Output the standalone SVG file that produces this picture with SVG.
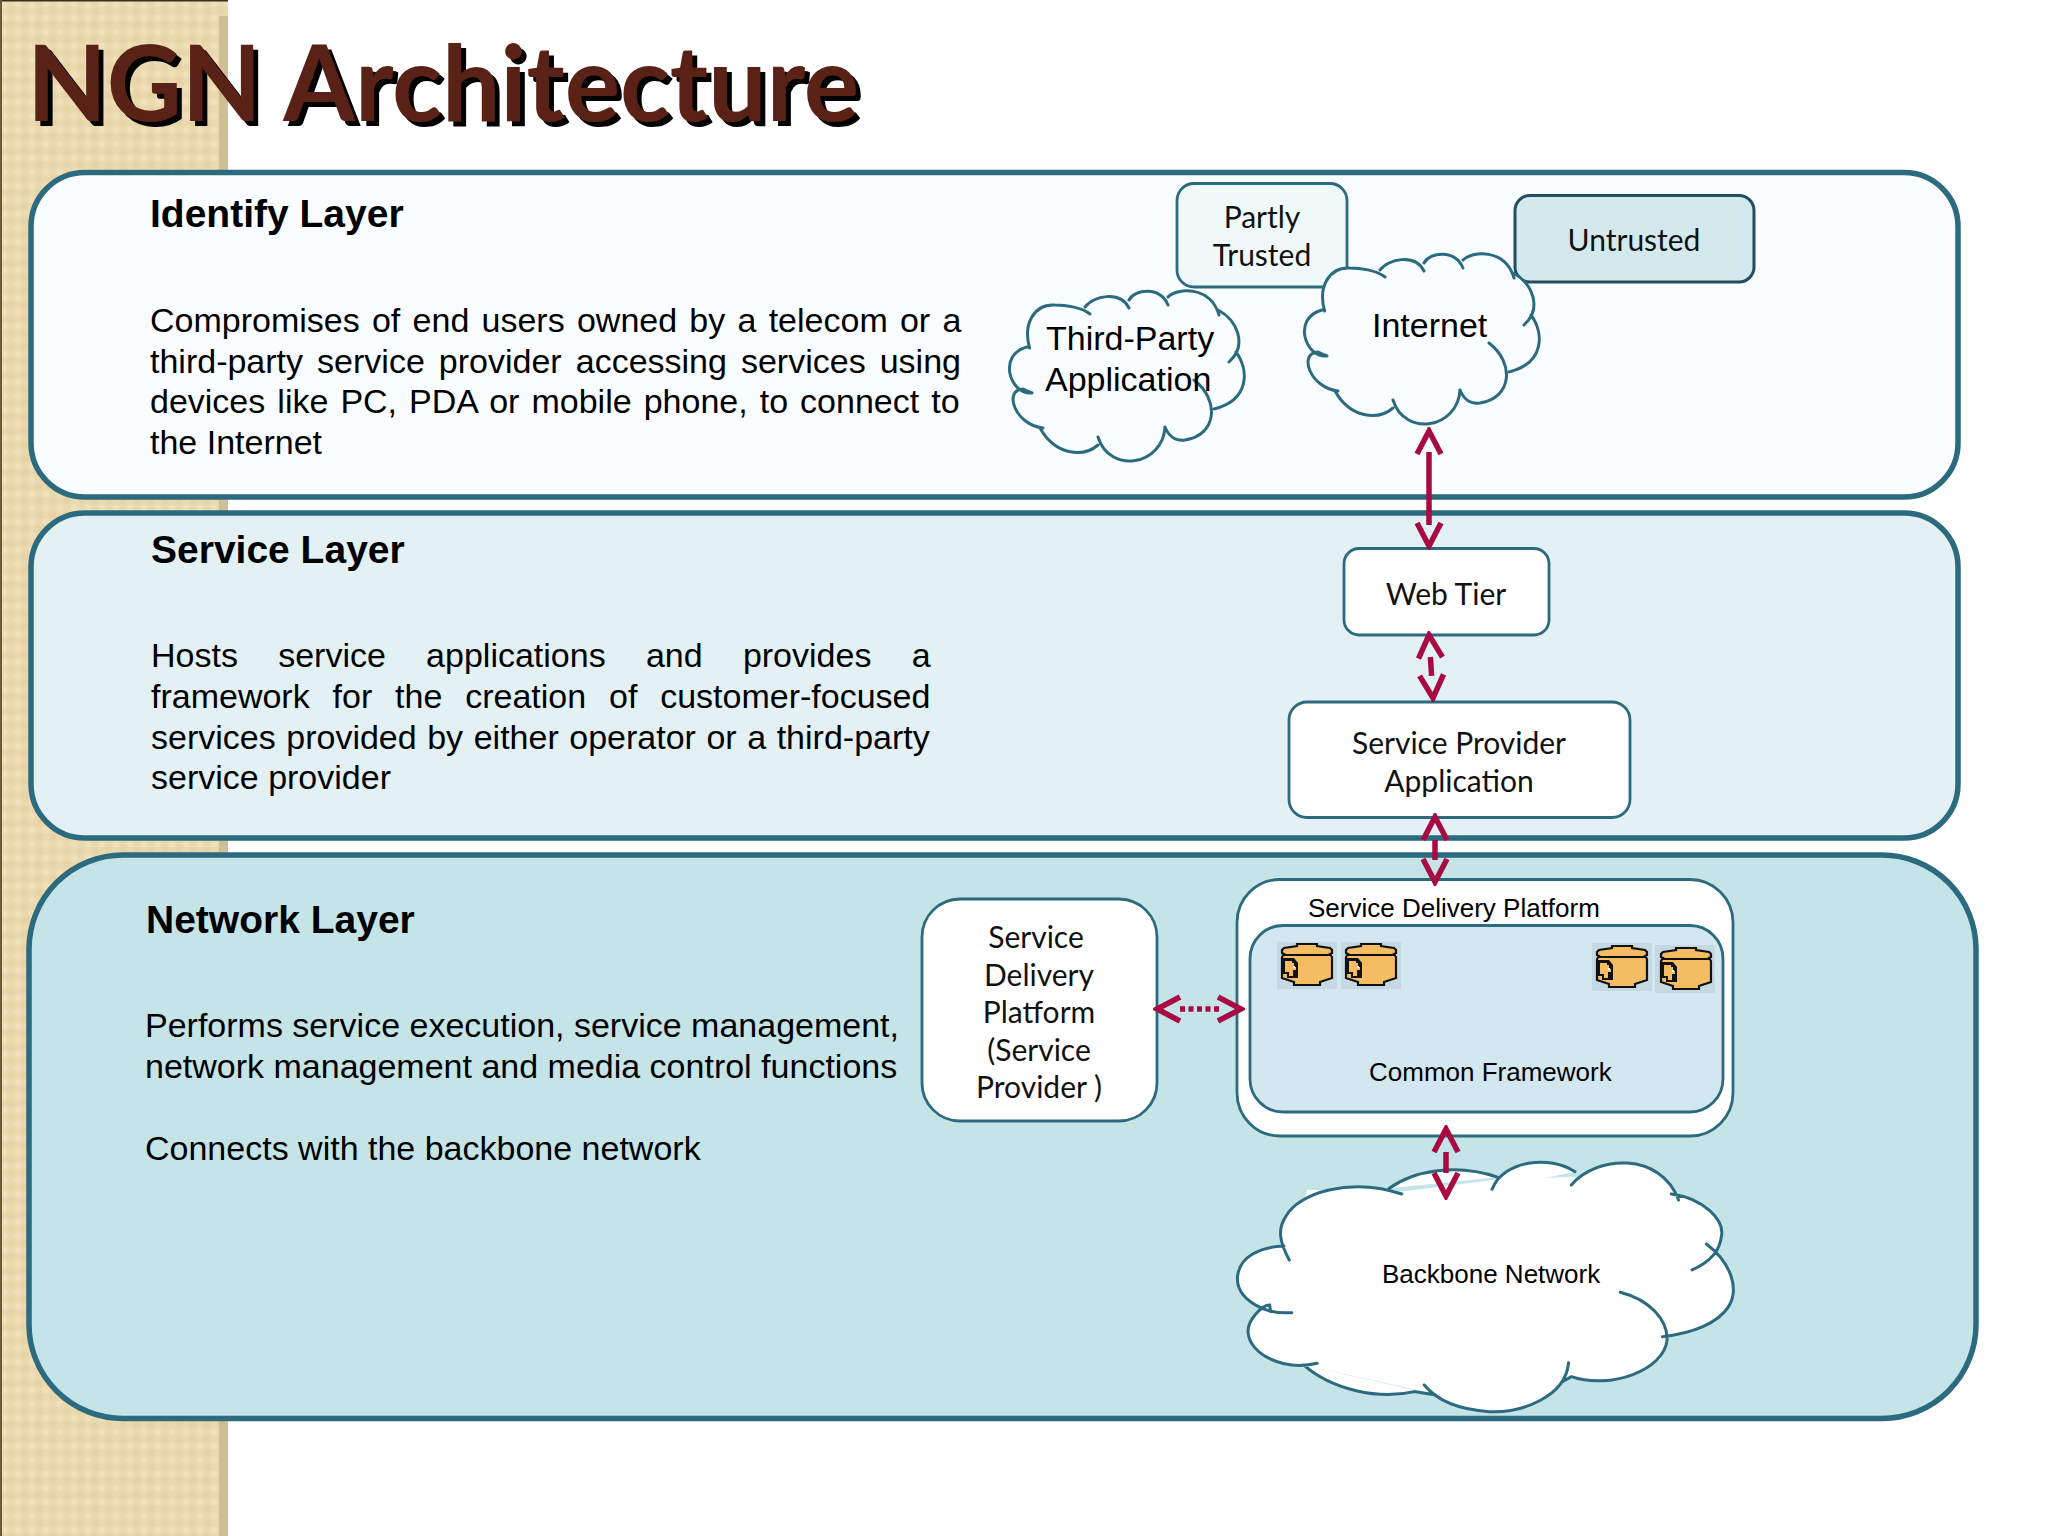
<svg xmlns="http://www.w3.org/2000/svg" width="2048" height="1536" viewBox="0 0 2048 1536">
<style>
text{font-family:"Liberation Sans",Arial,sans-serif;fill:#000}
.h{font-size:39px;font-weight:700}
.b{font-size:34px}
.g{font-family:"Lato","Open Sans",sans-serif;font-size:30px;text-anchor:middle;fill:#111}
.s{font-size:26px}
.layer{stroke:#2c6a7f;stroke-width:5.5}
.box{stroke:#2c6a7f;stroke-width:2.8}
.cl{stroke:#2c6a7f;stroke-width:3;stroke-linecap:round}
.ar{stroke:#a80a42;stroke-width:5.5;fill:none;marker-start:url(#v);marker-end:url(#v)}
</style>
<defs>
<pattern id="tex" width="14" height="14" patternUnits="userSpaceOnUse"><rect width="14" height="14" fill="#ead9ae"/><circle cx="4" cy="4" r="3.5" fill="#efe0b9"/><circle cx="11" cy="11" r="3.5" fill="#e6d4a6"/></pattern>
<marker id="v" viewBox="-30 -16 34 32" markerWidth="34" markerHeight="32" refX="0" refY="0" orient="auto-start-reverse" markerUnits="userSpaceOnUse"><path d="M-23,-12 L0,0 L-23,12" fill="none" stroke="#a80a42" stroke-width="5.5"/></marker>
<filter id="sh" x="-5%" y="-20%" width="110%" height="140%"><feDropShadow dx="5" dy="5" stdDeviation="0.3" flood-color="#000"/></filter>
<g id="cloud">
<path fill="#fafdff" d="M25,58 L50,20 L120,12 L165,10 L212,25 L225,72 L208,119 L160,137 L124,160 L93,147 L40,135 L27,103Z"/>
<path class="cl" fill="#fafdff" d="M24.6,58 C18,35 28,14 50,15 C60,15 76,17 85,24 M80,17 C88,6 115,0 124,18 M124,10 C130,-1 155,-4 163,15 M163,7 C172,-2 205,-5 214,25 M213,20 C232,30 243,55 224,72 M231,62 C244,80 245,110 209,119 M189,90 C215,110 212,145 180,150 C172,151 165,149 160,137 M160,137 C158,175 105,185 93,147 M93,155 C78,168 50,165 35,138 M38,138 C10,135 -2,100 18,99 C20,100 27,103 27,103 M27,103 C5,105 -8,65 22,57"/>
</g>
<g id="db">
<path fill="#f5bd63" stroke="#111" stroke-width="2.2" d="M15,0H35V2L48,4L50,6V9L48,10L50,13V34L38,38V41H12V38L0,34V13L2,10L0,9V6L2,4L15,2Z"/>
<path stroke="#111" stroke-width="2" d="M2,11H48" fill="none"/>
<path fill="#111" d="M0,14H12L16,19V34H5V30H0Z"/>
<path fill="#f5bd63" d="M3,17H10V19H12V23H14V26H11V32H7V28H3Z"/>
<rect x="11" y="22" width="2" height="2" fill="#fff"/>
</g>
</defs>
<rect width="2048" height="1536" fill="#fff"/>
<g id="sidebar">
<rect width="228" height="1536" fill="url(#tex)"/>
<rect x="219" y="16" width="9" height="1520" fill="#cfbf96"/>
<rect width="228" height="1.5" fill="#3a3020"/>
<rect width="2" height="1536" fill="#6a5a3c"/>
</g>
<text id="title" x="27" y="121" font-size="106" font-weight="700" textLength="832" lengthAdjust="spacingAndGlyphs" filter="url(#sh)" style="font-family:'Lato','Open Sans',sans-serif;fill:#5a2415">NGN Architecture</text>

<g id="identify-layer">
<rect class="layer" x="31" y="172.5" width="1927" height="324.5" rx="54" fill="#fafdff"/>
<text class="h" x="150" y="227">Identify Layer</text>
<text class="b" x="150" y="332" word-spacing="2.8">Compromises of end users owned by a telecom or a</text>
<text class="b" x="150" y="373" word-spacing="4.6">third-party service provider accessing services using</text>
<text class="b" x="150" y="413" word-spacing="2.6">devices like PC, PDA or mobile phone, to connect to</text>
<text class="b" x="150" y="454">the Internet</text>
</g>
<g id="service-layer">
<rect class="layer" x="31" y="513" width="1927" height="325" rx="54" fill="#e3f1f4"/>
<text class="h" x="151" y="563">Service Layer</text>
<text class="b" x="151" y="667" word-spacing="30.8">Hosts service applications and provides a</text>
<text class="b" x="151" y="708" word-spacing="13.4">framework for the creation of customer-focused</text>
<text class="b" x="151" y="749" word-spacing="1.1">services provided by either operator or a third-party</text>
<text class="b" x="151" y="789">service provider</text>
</g>
<g id="network-layer">
<rect class="layer" x="29" y="855" width="1947" height="563.5" rx="94" fill="#c5e4e8"/>
<text class="h" x="146" y="933">Network Layer</text>
<text class="b" x="145" y="1037">Performs service execution, service management,</text>
<text class="b" x="145" y="1078">network management and media control functions</text>
<text class="b" x="145" y="1160">Connects with the backbone network</text>
</g>

<g id="partly-trusted">
<rect class="box" x="1177" y="183.500" width="170" height="103.500" rx="17" fill="#f0f9fa"/>
<text class="g" x="1262" y="228">Partly</text>
<text class="g" x="1262" y="266">Trusted</text>
</g>
<g id="untrusted">
<rect x="1515" y="195.500" width="239" height="86.500" rx="15" fill="#d4e9ee" stroke="#1f4e5e" stroke-width="3"/>
<text class="g" x="1634" y="251">Untrusted</text>
</g>
<g id="third-party-application">
<use href="#cloud" x="1005" y="290"/>
<text class="b" x="1046" y="350">Third-Party</text>
<text class="b" x="1045" y="391">Application</text>
</g>
<g id="internet">
<use href="#cloud" x="1300" y="253"/>
<text class="b" x="1372" y="337">Internet</text>
</g>
<g id="web-tier">
<rect class="box" x="1344" y="548.500" width="205" height="86.500" rx="15" fill="#fff"/>
<text class="g" x="1446" y="605">Web Tier</text>
</g>
<g id="service-provider-application">
<rect class="box" x="1289" y="702" width="341" height="115.500" rx="18" fill="#fff"/>
<text class="g" x="1459" y="754">Service Provider</text>
<text class="g" x="1459" y="792">Application</text>
</g>
<g id="service-delivery-platform-provider">
<rect class="box" x="922" y="899" width="235" height="222" rx="38" fill="#fff"/>
<text class="g" x="1036" y="948">Service</text>
<text class="g" x="1039" y="986">Delivery</text>
<text class="g" x="1039" y="1023">Platform</text>
<text class="g" x="1039" y="1061">(Service</text>
<text class="g" x="1039" y="1098">Provider )</text>
</g>
<g id="service-delivery-platform">
<rect class="box" x="1237" y="879.500" width="496" height="256.500" rx="43" fill="#fff"/>
<text class="s" x="1308" y="917">Service Delivery Platform</text>
</g>
<g id="common-framework">
<rect class="box" x="1250" y="925.500" width="473" height="186.500" rx="33" fill="#d2e7f0"/>
<rect x="1277" y="942" width="60" height="47" fill="#c5d9e3"/>
<rect x="1341" y="942" width="60" height="47" fill="#c5d9e3"/>
<rect x="1592" y="943" width="60" height="48" fill="#c5d9e3"/>
<rect x="1655" y="945" width="60" height="48" fill="#c5d9e3"/>
<use href="#db" x="1282" y="944"/>
<use href="#db" x="1346" y="944"/>
<use href="#db" x="1597" y="946"/>
<use href="#db" x="1661" y="948"/>
<text class="s" x="1369" y="1081">Common Framework</text>
</g>
<g id="backbone-network">
<g transform="translate(1200,1120) scale(.3571,.3333)">
<path fill="#fff" d="M250,420 L300,210 L560,215 L820,180 L1040,170 L1330,235 L1440,370 L1480,540 L1300,645 L1290,720 L1020,780 L650,820 L290,735 L190,600 L240,400Z"/>
<path class="cl" vector-effect="non-scaling-stroke" fill="#fff" d="M250,420 C225,370 215,330 240,290 C275,220 420,170 565,222 M530,205 C600,150 720,130 835,172 M818,208 C850,120 980,105 1050,155 M1040,195 C1110,105 1290,95 1340,240 M1320,222 C1410,235 1470,300 1460,350 C1455,400 1420,430 1378,450 M1418,372 C1490,430 1510,510 1480,560 C1450,610 1380,640 1295,650 M1177,517 C1260,540 1310,600 1308,660 C1300,750 1150,810 1040,770 L1015,785 M1032,728 C1025,830 900,880 810,875 C740,870 670,850 628,795 M660,825 L600,815 C500,840 370,810 290,735 M328,730 C230,755 140,700 135,640 C130,600 175,555 195,555 L198,575 M257,578 C170,585 100,530 105,470 C110,410 170,380 235,378"/>
</g>
<text class="s" x="1382" y="1283">Backbone Network</text>
</g>

<g id="connectors">
<path class="ar" d="M1429,431 V546" stroke-dasharray="0 21 73 100"/>
<path class="ar" d="M1429,635 L1433,698" stroke-dasharray="0 22 19 100"/>
<path class="ar" d="M1435,817 V882" stroke-dasharray="0 23 20 100"/>
<path class="ar" d="M1446,1129 V1196" stroke-dasharray="0 23 21 100"/>
<path class="ar" d="M1157,1009 H1241" stroke-dasharray="0 23 5 3.500 5 3.500 5 3.500 5 3.500 5 100"/>
</g>
</svg>
